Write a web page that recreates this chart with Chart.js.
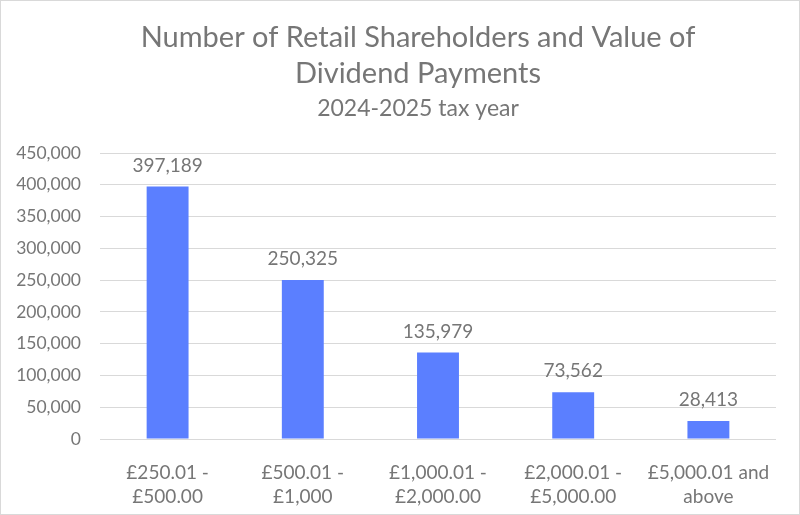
<!DOCTYPE html>
<html>
<head>
<meta charset="utf-8">
<script src="https://cdn.jsdelivr.net/npm/chart.js@4/dist/chart.umd.min.js"></script>
<style>
    html, body { margin: 0; padding: 0; background: #fff; }
    #wrap {
        position: absolute; left: 0; top: 0;
        width: 798px; height: 513px;
        border: 1px solid #d9d9d9;
    }
</style>
</head>
<body>
<div id="wrap"><canvas id="chart"></canvas></div>
<script>
// Data
const categories = [
    ['£250.01 -', '£500.00'],
    ['£500.01 -', '£1,000'],
    ['£1,000.01 -', '£2,000.00'],
    ['£2,000.01 -', '£5,000.00'],
    ['£5,000.01 and', 'above']
];
const shareholders = [397189, 250325, 135979, 73562, 28413];
const titleLines = ['Number of Retail Shareholders and Value of', 'Dividend Payments'];
const subtitleText = '2024-2025 tax year';

const textColor = '#767676';
const gridColor = '#d9d9d9';
const barColor = '#5b7fff';
const fontFamily = "Lato, 'Open Sans', sans-serif";

const fmt = (v) => v.toLocaleString('en-US');

// Title block drawn by hand so it can sit slightly right of centre, as in the original
const titleBlock = {
    id: 'titleBlock',
    afterDraw(chart) {
        const { ctx } = chart;
        const cx = 417;
        ctx.save();
        ctx.fillStyle = textColor;
        ctx.textAlign = 'center';
        ctx.textBaseline = 'middle';
        ctx.font = `29px ${fontFamily}`;
        ctx.fillText(titleLines[0], cx, 37);
        ctx.fillText(titleLines[1], cx, 73);
        ctx.font = `23px ${fontFamily}`;
        ctx.fillText(subtitleText, cx, 108);
        ctx.restore();
    }
};

// Value labels above each bar
const barLabels = {
    id: 'barLabels',
    afterDatasetsDraw(chart) {
        const { ctx } = chart;
        const meta = chart.getDatasetMeta(0);
        ctx.save();
        ctx.fillStyle = textColor;
        ctx.font = `19px ${fontFamily}`;
        ctx.textAlign = 'center';
        ctx.textBaseline = 'middle';
        meta.data.forEach((bar, i) => {
            ctx.fillText(fmt(shareholders[i]), bar.x, bar.y - 21);
        });
        ctx.restore();
    }
};

new Chart(document.getElementById('chart'), {
    type: 'bar',
    data: {
        labels: categories,
        datasets: [{
            data: shareholders,
            backgroundColor: barColor,
            barPercentage: 0.31,
            categoryPercentage: 1.0
        }]
    },
    options: {
        responsive: true,
        maintainAspectRatio: false,
        animation: false,
        layout: { padding: { left: 12, right: 23, top: 152, bottom: 0 } },
        plugins: {
            legend: { display: false },
            tooltip: { enabled: false },
            title: { display: false }
        },
        scales: {
            x: {
                grid: { display: false },
                border: { display: false },
                afterFit: (scale) => { scale.height = 75; },
                ticks: {
                    color: textColor,
                    font: { family: fontFamily, size: 19, lineHeight: 1.26 },
                    maxRotation: 0,
                    autoSkip: false,
                    padding: 14
                }
            },
            y: {
                min: 0,
                max: 450000,
                grid: { color: gridColor, drawTicks: false },
                border: { display: false },
                afterFit: (scale) => { scale.width = 87; },
                ticks: {
                    stepSize: 50000,
                    color: textColor,
                    font: { family: fontFamily, size: 17.5 },
                    padding: 19,
                    callback: (v) => fmt(v)
                }
            }
        }
    },
    plugins: [barLabels, titleBlock]
});
</script>
</body>
</html>
